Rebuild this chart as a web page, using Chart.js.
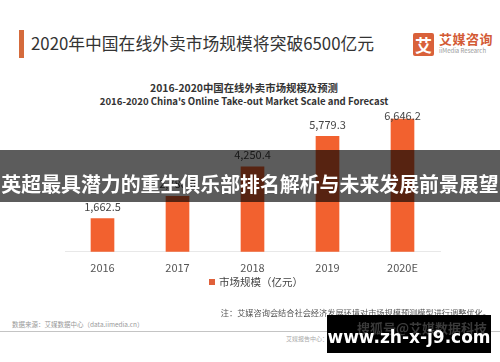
<!DOCTYPE html>
<html>
<head>
<meta charset="utf-8">
<script src="https://cdn.jsdelivr.net/npm/chart.js@4"></script>
<style>
    body { margin: 0; width: 500px; height: 362px; background: #fff; position: relative; overflow: hidden; font-family: "Noto Sans CJK SC", "Noto Sans", sans-serif; }
    .abs { position: absolute; white-space: nowrap; }
    .title__bar { left: 19px; top: 30px; width: 5px; height: 28px; background: #D56B3C; }
    .title { left: 31px; top: 32px; font-size: 16.8px; line-height: 22px; color: #333; }
    .logo__box { left: 413px; top: 33px; width: 21px; height: 23px; background: #D9613A; color: #fff; font-size: 17px; font-weight: bold; line-height: 23px; text-align: center; border-radius: 2px; }
    .logo__text { left: 439px; top: 30px; font-size: 13px; line-height: 18px; color: #D35B36; font-weight: bold; letter-spacing: 0.5px; }
    .logo__sub { left: 439px; top: 47px; font-size: 6px; line-height: 8px; color: #999; }
    .chart__title { left: 0; width: 488px; text-align: center; color: #333; font-weight: bold; }
    #wrap { position: absolute; left: 0; top: 100px; width: 500px; height: 185px; }
    .legend__dot { left: 209px; top: 279px; width: 6px; height: 6px; background: #E0603A; }
    .legend__text { left: 219px; top: 275px; font-size: 10.5px; line-height: 14px; color: #444; }
    .note { right: 9px; top: 306px; font-size: 8.2px; line-height: 12px; color: #555; }
    .source { left: 12px; top: 319px; font-size: 6.5px; line-height: 10px; color: #999; }
    .rule { left: 0; top: 331px; width: 500px; height: 1px; background: #c4c4c4; }
    .report { left: 286px; top: 334px; font-size: 6px; line-height: 9px; color: #aaa; }
    .banner { left: 0; top: 150px; width: 500px; height: 52px; background: rgba(0, 0, 0, 0.64); }
    .banner__text { left: 0; top: 171px; width: 500px; text-align: center; font-size: 19.9px; line-height: 26px; font-weight: bold; color: #fff; }
    .mark { left: 327px; top: 315px; width: 164px; height: 38px; background: #000; }
    .mark__sohu { left: 357px; top: 320px; font-size: 13px; line-height: 16px; color: #3a3a3a; font-weight: bold; }
    .mark__text { left: 327px; top: 324px; width: 164px; text-align: center; font-family: "DejaVu Sans", sans-serif; font-size: 17px; line-height: 26px; font-weight: bold; color: #fff; }
</style>
</head>
<body>
<div class="abs title__bar"></div>
<div class="abs title">2020年中国在线外卖市场规模将突破6500亿元</div>
<div class="abs logo__box">艾</div>
<div class="abs logo__text">艾媒咨询</div>
<div class="abs logo__sub">iiMedia Research</div>
<div class="abs chart__title" style="top:81px;font-size:10.4px;line-height:14px;">2016-2020中国在线外卖市场规模及预测</div>
<div class="abs chart__title" style="top:94px;font-size:9.6px;line-height:14px;">2016-2020 China's Online Take-out Market Scale and Forecast</div>

<div id="wrap"><canvas id="myChart"></canvas></div>

<div class="abs legend__dot"></div>
<div class="abs legend__text">市场规模（亿元）</div>
<div class="abs note">注：艾媒咨询会结合社会经济发展环境对市场规模预测模型进行调整优化。</div>
<div class="abs source">数据来源：艾媒数据中心（data.iimedia.cn）</div>
<div class="abs rule"></div>
<div class="abs report">艾媒报告中心：report.iimedia.cn ©2020 iiMedia Research Inc</div>

<div class="abs banner"></div>
<div class="abs banner__text">英超最具潜力的重生俱乐部排名解析与未来发展前景展望</div>

<div class="abs mark"></div>
<div class="abs mark__sohu">搜狐号@艾媒数据科技</div>
<div class="abs mark__text">www.zh-x-j9.com</div>

<script>
// data
const years = ['2016', '2017', '2018', '2019', '2020E'];
const marketScale = [1662.5, 2780.0, 4250.4, 5779.3, 6646.2];
const yMax = 7000;

// value labels above bars
const valueLabels = {
    id: 'valueLabels',
    afterDatasetsDraw(chart) {
        const ctx = chart.ctx;
        const bars = chart.getDatasetMeta(0).data;
        ctx.save();
        ctx.font = '11px "Noto Sans CJK SC", sans-serif';
        ctx.fillStyle = '#444';
        ctx.textAlign = 'center';
        ctx.textBaseline = 'middle';
        bars.forEach((bar, i) => {
            const text = marketScale[i].toLocaleString('en-US', { minimumFractionDigits: 1, maximumFractionDigits: 1 });
            const y = Math.max(bar.y - 12, chart.chartArea.top + 4);
            ctx.fillText(text, bar.x, y);
        });
        ctx.restore();
    }
};

const config = {
    type: 'bar',
    data: {
        labels: years,
        datasets: [
            {
                label: '市场规模（亿元）',
                data: marketScale,
                backgroundColor: '#F2612F',
                barThickness: 23,
            },
        ],
    },
    options: {
        responsive: true,
        maintainAspectRatio: false,
        animation: false,
        layout: {
            padding: { left: 65, right: 60, top: 12, bottom: 2 },
        },
        plugins: {
            legend: { display: false },
            tooltip: { enabled: false },
        },
        scales: {
            x: {
                grid: { display: false, drawTicks: false },
                border: { display: true, color: '#e8e8e8' },
                ticks: {
                    color: '#555',
                    padding: 9,
                    font: { size: 11, family: '"Noto Sans CJK SC", sans-serif' },
                },
            },
            y: {
                display: false,
                min: 0,
                max: yMax,
            },
        },
    },
    plugins: [valueLabels],
};

const myChart = new Chart(document.getElementById('myChart'), config);
</script>
</body>
</html>
